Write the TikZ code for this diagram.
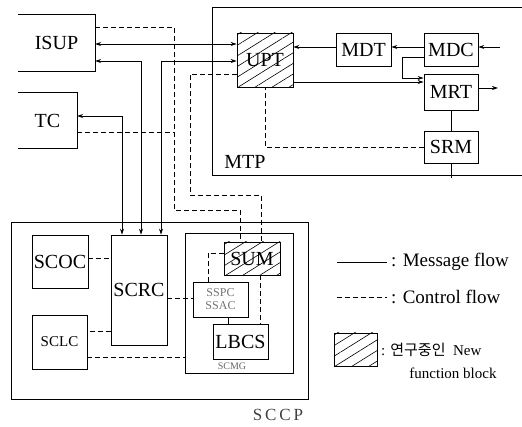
\documentclass[tikz,border=0pt]{standalone}
\usepackage{fontspec}
\setmainfont{Liberation Serif}
\newfontfamily\krfont{Noto Sans CJK KR}
\usetikzlibrary{arrows.meta,patterns.meta}

\tikzset{
  blk/.style={draw, line width=.8pt, inner sep=0pt, font=\fontsize{20}{20}\selectfont},
  smallblk/.style={blk, font=\fontsize{15}{15}\selectfont},
  hatch/.style={pattern={Lines[angle=32,distance=9pt,line width=.6pt]}},
  msg/.style={line width=.7pt},
  ctl/.style={line width=.7pt, dash pattern=on 5pt off 3pt},
  lbl/.style={font=\fontsize{20}{20}\selectfont},
  leg/.style={anchor=west, inner sep=0pt, font=\fontsize{19}{19}\selectfont}
}

\begin{document}
\begin{tikzpicture}[x=1pt,y=-1pt,>={Stealth[length=6pt,width=4pt]}]
    \useasboundingbox (0,0) rectangle (522,427);
    % outer frames
    \draw[line width=.8pt] (522,7) -| (212,175) -- (522,175);
    \node[lbl] (MTPlabel) at (245,162) {MTP};
    \draw[line width=.8pt] (11,222) rectangle (308,399);
    \node[font=\fontsize{17}{17}\selectfont, text=black!75] (SCCPlabel) at (278,415) {S\,C\,C\,P};
    \draw[line width=.8pt] (185,233) rectangle (293,373);
    \node[font=\fontsize{10}{10}\selectfont, text=black!60] (SCMG) at (232,366) {SCMG};
    % blocks
    \node[minimum width=77pt, minimum height=56pt, lbl] (ISUP) at (56.5,43) {ISUP};
    \draw[line width=.8pt] (ISUP.north west) -| (ISUP.south east) -- (ISUP.south west);
    \node[minimum width=59pt, minimum height=55pt, lbl] (TC) at (47.5,120.5) {TC};
    \draw[line width=.8pt] (TC.north west) -| (TC.south east) -- (TC.south west);
    \node[blk, hatch, minimum width=56pt, minimum height=54pt] (UPT) at (265,60) {UPT};
    \node[blk, minimum width=55pt, minimum height=33pt] (MDT) at (363.5,49.5) {MDT};
    \node[blk, minimum width=54pt, minimum height=33pt] (MDC) at (451,49.5) {MDC};
    \node[blk, minimum width=54pt, minimum height=36pt] (MRT) at (451,92) {MRT};
    \node[blk, minimum width=54pt, minimum height=32pt] (SRM) at (451,147) {SRM};
    \node[blk, minimum width=56pt, minimum height=53pt] (SCOC) at (60,261.5) {SCOC};
    \node[blk, minimum width=56pt, minimum height=110pt] (SCRC) at (139,290) {SCRC};
    \node[smallblk, minimum width=55pt, minimum height=54pt] (SCLC) at (59.5,342) {SCLC};
    \node[blk, hatch, minimum width=56pt, minimum height=33pt] (SUM) at (252,258.5) {SUM};
    \node[blk, minimum width=55pt, minimum height=35pt, font=\fontsize{12}{13}\selectfont,
          text=black!55, align=center] (SSPC) at (220.5,299.5) {SSPC\\SSAC};
    \node[blk, minimum width=55pt, minimum height=35pt] (LBCS) at (240.5,341.5) {LBCS};
    \coordinate (mdcin) at (500,47);
    \coordinate (mrtout) at (498,88);
    \coordinate (srmout) at (451,178);
    \coordinate (tcjoin) at (174,132);
    % message flow
    \draw[msg,<->] (ISUP.east |- 0,44) -- (UPT.west |- 0,44);
    \draw[msg,<->] (ISUP.east |- 0,61) -| (SCRC.north -| 141,0);
    \draw[msg,<->] (TC.east |- 0,116) -| (SCRC.north -| 122,0);
    \draw[msg,<->] (UPT.west |- 0,61) -| (SCRC.north -| 161,0);
    \draw[msg,->] (mdcin) -- (MDC.east |- mdcin);
    \draw[msg,->] (MDC.west |- 0,47) -- (MDT.east |- 0,47);
    \draw[msg,->] (MDT.west |- 0,47) -- (UPT.east |- 0,47);
    \draw[msg,->] (MDC.west |- 0,57) -| (402,78) -- (MRT.west |- 0,78);
    \draw[msg,->] (UPT.east |- 0,82) -- (MRT.west |- 0,82);
    \draw[msg,->] (MRT.east |- mrtout) -- (mrtout);
    \draw[msg] (MRT.south) -- (SRM.north);
    \draw[msg] (SRM.south) -- (srmout);
    \draw[msg] (SSPC.south -| 228,0) -- (LBCS.north -| 228,0);
    % control flow
    \draw[ctl] (SRM.west) -| (UPT.south);
    \draw[ctl] (ISUP.east |- 0,27) -| (174,210) -| (SUM.north -| 240,0);
    \draw[ctl] (UPT.west |- 0,74) -| (190,195) -| (SUM.north -| 261,0);
    \draw[ctl] (TC.east |- 0,132) -- (tcjoin);
    \draw[ctl] (SCOC.east |- 0,258) -- (SCRC.west |- 0,258);
    \draw[ctl] (SCRC.east |- 0,298) -- (SSPC.west |- 0,298);
    \draw[ctl] (SCRC.west |- 0,331) -- (SCLC.east |- 0,331);
    \draw[ctl] (SCLC.east |- 0,357) -- (185,357);
    \draw[ctl] (SUM.west |- 0,253) -| (SSPC.north -| 208,0);
    \draw[ctl] (SUM.south -| 260,0) -- (LBCS.north -| 260,0);
    % legend
    \coordinate (lm1) at (337,262);
    \coordinate (lm2) at (387,262);
    \coordinate (lc1) at (337,297);
    \coordinate (lc2) at (387,297);
    \draw[msg] (lm1) -- (lm2);
    \node[leg] (msgtxt) at (391,262) {: Message flow};
    \draw[ctl] (lc1) -- (lc2);
    \node[leg] (ctltxt) at (391,297) {: Control flow};
    \node[draw, line width=.8pt, hatch, minimum width=43pt, minimum height=33pt] (legbox) at (355.5,349.5) {};
    \node[leg, font=\fontsize{15}{15}\selectfont] (newtxt) at (381,350) {: {\krfont 연구중인}\ \ New};
    \node[font=\fontsize{15}{15}\selectfont] (fbtxt) at (453,373) {function block};
\end{tikzpicture}
\end{document}
